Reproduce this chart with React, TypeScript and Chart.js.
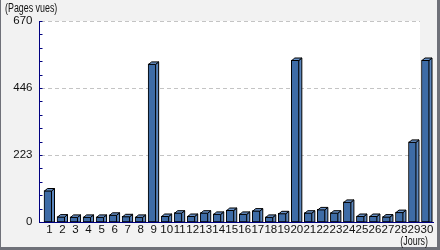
import React, { useEffect, useRef } from "react";
import { Chart, registerables } from "chart.js";

Chart.register(...registerables);

const days: string[] = [
  "1","2","3","4","5","6","7","8","9","10",
  "11","12","13","14","15","16","17","18","19","20",
  "21","22","23","24","25","26","27","28","29","30",
];
const pageViews: number[] = [
  105, 18, 17, 17, 17, 24, 19, 17, 527, 20,
  31, 20, 31, 27, 40, 27, 38, 17, 29, 540,
  31, 42, 31, 67, 20, 20, 18, 33, 267, 540,
];
const yTicks: number[] = [0, 223, 446, 670];
const yMinorCount = 15;
const yAxisTitle = "(Pages vues)";
const xAxisTitle = "(Jours)";

const FONT = "'Liberation Sans', Arial, sans-serif";
const NAVY = "#000080";
const FRONT = "#3e6ca6";
const SIDE = "#5b86bd";
const TOP = "#6790c6";
const TEXT = "#111111";

function narrowText(ctx: any, text: string, x: number, y: number, align: "left" | "right") {
  const sx = 0.74;
  ctx.save();
  ctx.translate(x, y);
  ctx.scale(sx, 1);
  ctx.textAlign = align;
  ctx.fillText(text, 0, 0);
  ctx.restore();
}

const decorPlugin = {
  id: "decor",
  beforeDraw(chart: any) {
    const { ctx, width, height, chartArea } = chart;
    const yScale = chart.scales.y;
    ctx.save();
    ctx.fillStyle = "#f2f2f2";
    ctx.fillRect(0, 0, width, height);
    ctx.fillStyle = "#6f7179";
    ctx.fillRect(0, 0, 1, height);
    ctx.fillRect(width - 3, 0, 3, height);
    ctx.fillRect(0, height - 3, width, 3);
    const left = Math.round(chartArea.left - 2.5) + 1;
    const right = Math.round(chartArea.right - 12);
    const top = Math.round(yScale.getPixelForValue(yTicks[yTicks.length - 1]));
    const bottom = Math.round(yScale.getPixelForValue(0));
    ctx.fillStyle = "#ffffff";
    ctx.fillRect(left, top, right - left, bottom - top);
    ctx.strokeStyle = "#c4c4c4";
    ctx.lineWidth = 1;
    ctx.setLineDash([4, 3]);
    yTicks.forEach((v) => {
      if (v === 0) return;
      const y = Math.round(yScale.getPixelForValue(v)) + 0.5;
      ctx.beginPath();
      ctx.moveTo(left + 1, y);
      ctx.lineTo(right, y);
      ctx.stroke();
    });
    ctx.restore();
  },
  afterDatasetsDraw(chart: any) {
    const { ctx, chartArea } = chart;
    const yScale = chart.scales.y;
    const meta = chart.getDatasetMeta(0);
    const dx = 3;
    const dy = 2.5;
    ctx.save();
    ctx.lineWidth = 1;
    ctx.strokeStyle = "#000000";
    ctx.setLineDash([]);
    meta.data.forEach((el: any) => {
      const p = el.getProps(["x", "y", "base", "width"], true);
      const L = p.x - p.width / 2 + 0.5;
      const R = p.x + p.width / 2 - 0.5;
      const T = p.y + 0.5;
      const B = p.base;
      ctx.fillStyle = SIDE;
      ctx.beginPath();
      ctx.moveTo(R, T);
      ctx.lineTo(R + dx, T - dy);
      ctx.lineTo(R + dx, B);
      ctx.lineTo(R, B);
      ctx.closePath();
      ctx.fill();
      ctx.stroke();
      ctx.fillStyle = TOP;
      ctx.beginPath();
      ctx.moveTo(L, T);
      ctx.lineTo(L + dx, T - dy);
      ctx.lineTo(R + dx, T - dy);
      ctx.lineTo(R, T);
      ctx.closePath();
      ctx.fill();
      ctx.stroke();
    });
    const ax = Math.round(chartArea.left - 3) + 0.5;
    const yTop = Math.round(yScale.getPixelForValue(yTicks[yTicks.length - 1]));
    const yBot = Math.round(yScale.getPixelForValue(0)) + 0.5;
    ctx.strokeStyle = NAVY;
    ctx.beginPath();
    ctx.moveTo(ax, yTop);
    ctx.lineTo(ax, yBot + 0.5);
    ctx.stroke();
    ctx.beginPath();
    ctx.moveTo(ax - 0.5, yBot);
    ctx.lineTo(chartArea.right + 2, yBot);
    ctx.stroke();
    const maxV = yTicks[yTicks.length - 1];
    for (let i = 0; i <= yMinorCount; i++) {
      const v = (maxV * i) / yMinorCount;
      const y = Math.round(yScale.getPixelForValue(v)) + 0.5;
      ctx.beginPath();
      ctx.moveTo(ax, y);
      ctx.lineTo(ax + 3, y);
      ctx.stroke();
    }
    ctx.restore();
  },
  afterDraw(chart: any) {
    const { ctx, chartArea } = chart;
    ctx.save();
    ctx.fillStyle = TEXT;
    ctx.font = `12px ${FONT}`;
    ctx.textBaseline = "middle";
    narrowText(ctx, yAxisTitle, 5, 8.5, "left");
    narrowText(ctx, xAxisTitle, chartArea.right - 4, 242, "right");
    ctx.restore();
  },
};

export default function App() {
  const ref = useRef<HTMLCanvasElement | null>(null);
  useEffect(() => {
    document.body.style.margin = "0";
    const canvas = ref.current;
    if (!canvas) return;
    const chart = new Chart(canvas, {
      type: "bar",
      data: {
        labels: days,
        datasets: [
          {
            data: pageViews,
            backgroundColor: FRONT,
            borderColor: "#000000",
            borderWidth: 1,
            borderSkipped: false,
            barThickness: 8,
          },
        ],
      },
      options: {
        responsive: false,
        animation: false,
        devicePixelRatio: 1,
        layout: { padding: { top: 21, right: 8, left: 0, bottom: 0 } },
        plugins: {
          legend: { display: false },
          tooltip: { enabled: false },
        },
        scales: {
          x: {
            type: "category",
            offset: true,
            grid: { display: false, drawTicks: false },
            border: { display: false },
            ticks: {
              font: { family: FONT, size: 11.5 },
              color: TEXT,
              padding: 1,
              labelOffset: 1.5,
              maxRotation: 0,
              minRotation: 0,
              autoSkip: false,
            },
            afterFit: (s: any) => {
              s.height = 28;
            },
          },
          y: {
            min: 0,
            max: 670,
            grid: { display: false, drawTicks: false },
            border: { display: false },
            afterBuildTicks: (s: any) => {
              s.ticks = yTicks.map((v) => ({ value: v }));
            },
            ticks: {
              font: { family: FONT, size: 11.5 },
              color: TEXT,
              padding: 9,
            },
            afterFit: (s: any) => {
              s.width = 41.5;
            },
          },
        },
      },
      plugins: [decorPlugin],
    });
    return () => chart.destroy();
  }, []);
  return (
    <div style={{ width: 440, height: 250 }}>
      <canvas ref={ref} width={440} height={250} style={{ display: "block" }} />
    </div>
  );
}
